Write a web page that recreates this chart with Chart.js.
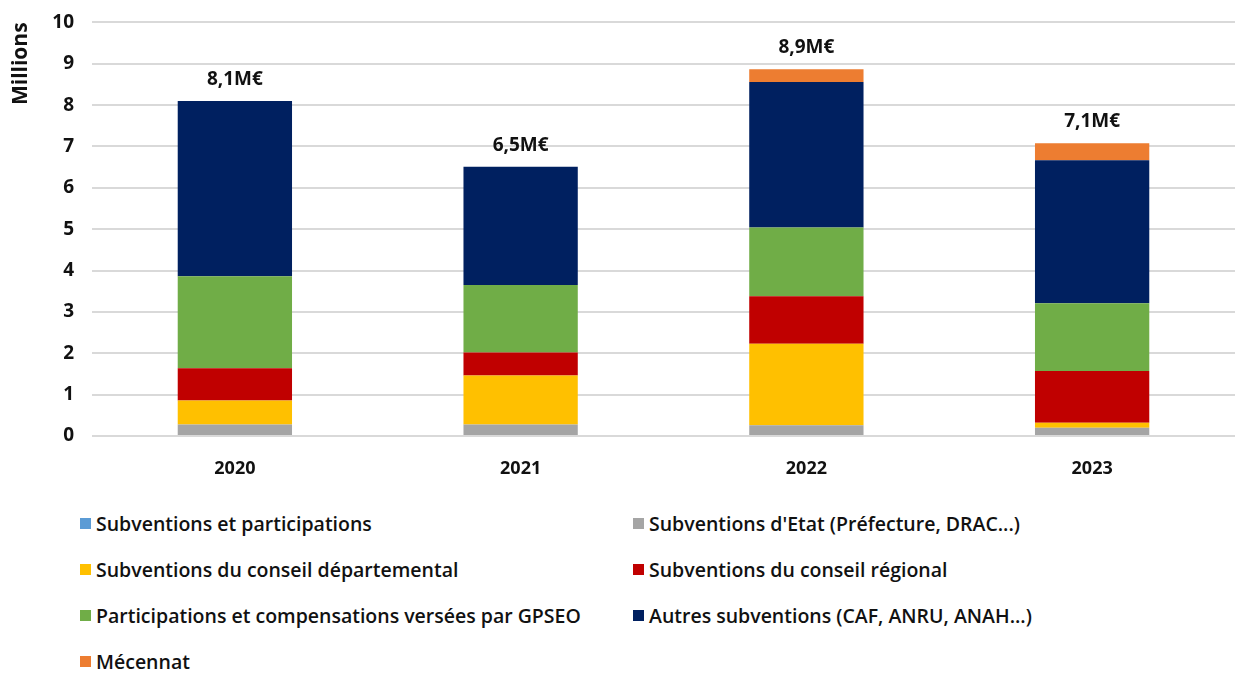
<!DOCTYPE html>
<html>
<head>
<meta charset="utf-8">
<script src="https://cdn.jsdelivr.net/npm/chart.js@4"></script>
<style>
    html, body { margin: 0; padding: 0; background: #fff; }
    #wrap { position: relative; width: 1236px; height: 674px; overflow: hidden; }
    #chartBox { position: absolute; left: 0; top: -7px; width: 1236px; height: 497px; }
    #legend { position: absolute; left: 80px; top: 510px; width: 1150px; }
    .item { position: absolute; display: flex; align-items: center; white-space: nowrap;
            font-family: 'Open Sans', sans-serif; font-weight: 600; font-size: 19.5px; color: #111; }
    .swatch { width: 11px; height: 11px; margin-right: 5px; }
</style>
</head>
<body>
<div id="wrap">
    <div id="chartBox"><canvas id="fundingChart"></canvas></div>
    <div id="legend"></div>
</div>
<script>
// Values in millions of euros
const years = ['2020', '2021', '2022', '2023'];
const seriesNames = [
    'Subventions et participations',
    "Subventions d'Etat (Préfecture, DRAC...)",
    'Subventions du conseil départemental',
    'Subventions du conseil régional',
    'Participations et compensations versées par GPSEO',
    'Autres subventions (CAF, ANRU, ANAH...)',
    'Mécennat'
];
const participations = [0, 0, 0, 0];
const etat = [0.28, 0.28, 0.26, 0.20];
const departemental = [0.58, 1.18, 1.97, 0.12];
const regional = [0.78, 0.56, 1.15, 1.25];
const gpseo = [2.22, 1.63, 1.66, 1.64];
const autres = [4.24, 2.86, 3.52, 3.46];
const mecennat = [0, 0, 0.31, 0.41];
const yTicks = [0, 1, 2, 3, 4, 5, 6, 7, 8, 9, 10];

const colors = ['#5B9BD5', '#A5A5A5', '#FFC000', '#C00000', '#70AD47', '#002060', '#ED7D31'];
const seriesValues = [participations, etat, departemental, regional, gpseo, autres, mecennat];

const datasets = seriesValues.map((values, i) => ({
    label: seriesNames[i],
    data: values,
    backgroundColor: colors[i],
    borderWidth: 0,
    categoryPercentage: 1,
    barPercentage: 0.4
}));

// Total label above each stacked bar
const totalsPlugin = {
    id: 'totals',
    afterDatasetsDraw(chart) {
        const ctx = chart.ctx;
        const yScale = chart.scales.y;
        const xScale = chart.scales.x;
        ctx.save();
        ctx.font = 'bold 19px "Open Sans", sans-serif';
        ctx.fillStyle = '#111';
        ctx.textAlign = 'center';
        ctx.textBaseline = 'bottom';
        years.forEach((year, i) => {
            const total = seriesValues.reduce((sum, s) => sum + s[i], 0);
            const x = xScale.getPixelForValue(i);
            const y = yScale.getPixelForValue(total);
            ctx.fillText(total.toFixed(1).replace('.', ',') + 'M€', x, y - 12);
        });
        ctx.restore();
    }
};

const ctx = document.getElementById('fundingChart').getContext('2d');
const chart = new Chart(ctx, {
    type: 'bar',
    data: { labels: years, datasets: datasets },
    options: {
        responsive: true,
        maintainAspectRatio: false,
        animation: false,
        layout: { padding: { top: 3, right: 1, left: 0, bottom: 0 } },
        plugins: {
            legend: { display: false },
            tooltip: { enabled: false }
        },
        scales: {
            x: {
                stacked: true,
                grid: { display: false },
                border: { display: false },
                ticks: {
                    color: '#111',
                    padding: 14,
                    font: { family: '"Open Sans", sans-serif', size: 18, weight: 'bold' }
                },
                afterFit(scale) { scale.height = 54; }
            },
            y: {
                stacked: true,
                min: 0,
                max: 10,
                afterBuildTicks(scale) { scale.ticks = yTicks.map(v => ({ value: v })); },
                grid: { color: '#d9d9d9', lineWidth: 2, drawTicks: false },
                border: { display: false },
                title: {
                    display: true,
                    text: 'Millions',
                    align: 'end',
                    color: '#111',
                    padding: { top: 8, bottom: 0 },
                    font: { family: '"Open Sans", sans-serif', size: 21, weight: 'bold' }
                },
                ticks: {
                    color: '#111',
                    padding: 18,
                    font: { family: '"Open Sans", sans-serif', size: 19, weight: 'bold' }
                },
                afterFit(scale) { scale.width = 92; }
            }
        }
    },
    plugins: [totalsPlugin]
});

// Two-column legend built from the datasets
const legend = document.getElementById('legend');
chart.data.datasets.forEach((ds, i) => {
    const item = document.createElement('div');
    item.className = 'item';
    item.style.left = (i % 2 === 0 ? 0 : 553) + 'px';
    item.style.top = (Math.floor(i / 2) * 46) + 'px';
    item.innerHTML = `<span class="swatch" style="background:${ds.backgroundColor}"></span><span>${ds.label}</span>`;
    legend.appendChild(item);
});
</script>
</body>
</html>
